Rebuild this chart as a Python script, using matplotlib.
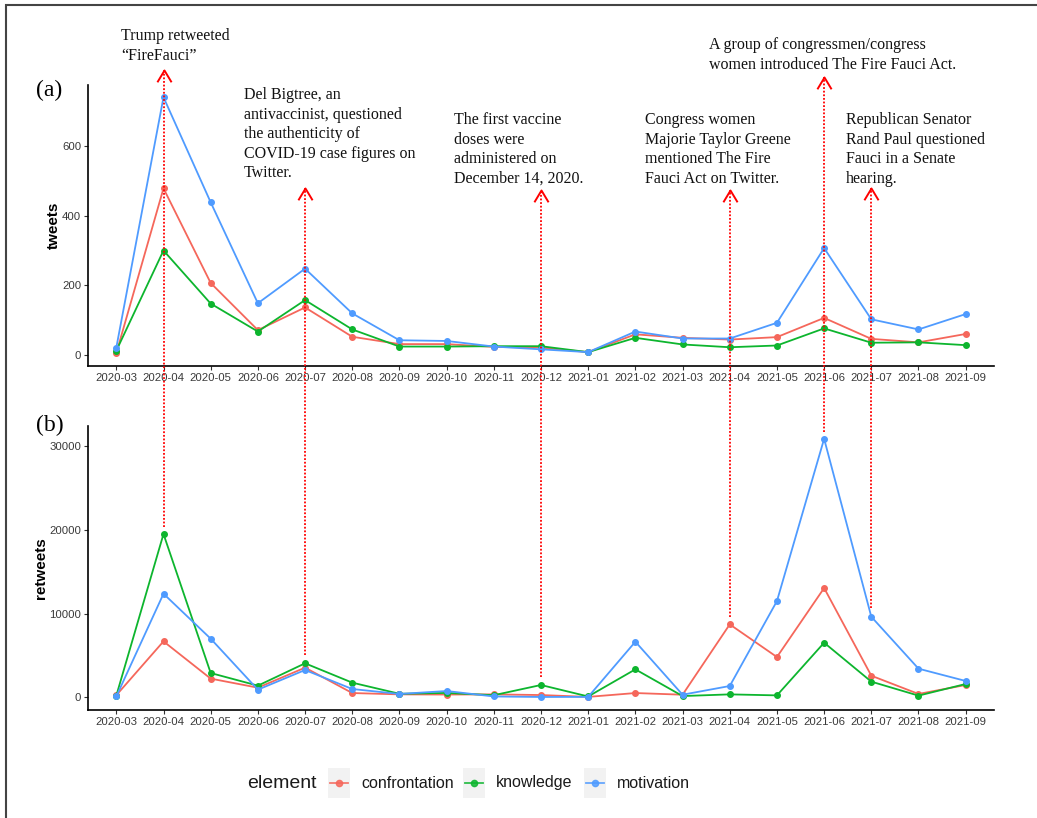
import matplotlib
matplotlib.use("Agg")
import matplotlib.pyplot as plt
import matplotlib.transforms as mtransforms
from matplotlib.lines import Line2D
from matplotlib.patches import Rectangle
from matplotlib.path import Path

# ---- data ----
months = ["2020-03", "2020-04", "2020-05", "2020-06", "2020-07", "2020-08",
          "2020-09", "2020-10", "2020-11", "2020-12", "2021-01", "2021-02",
          "2021-03", "2021-04", "2021-05", "2021-06", "2021-07", "2021-08",
          "2021-09"]

tweets_confrontation = [6, 478, 207, 72, 137, 53, 32, 32, 24, 22, 9, 60, 50, 45, 52, 107, 47, 37, 61]
tweets_knowledge = [13, 300, 148, 68, 158, 74, 25, 25, 26, 26, 9, 50, 31, 23, 28, 77, 36, 37, 29]
tweets_motivation = [22, 739, 438, 149, 248, 120, 43, 41, 25, 17, 9, 68, 48, 48, 93, 307, 103, 74, 118]

retweets_confrontation = [250, 6680, 2230, 1150, 3540, 510, 350, 330, 350, 270, 50, 510, 310, 8710, 4810, 13050, 2580, 400, 1470]
retweets_knowledge = [200, 19500, 2900, 1390, 4060, 1750, 420, 520, 250, 1470, 100, 3340, 150, 350, 230, 6520, 1870, 200, 1590]
retweets_motivation = [100, 12370, 7000, 910, 3260, 990, 400, 750, 100, 40, 50, 6640, 310, 1350, 11490, 30870, 9620, 3420, 1950]

elements = ["confrontation", "knowledge", "motivation"]

event_months = ["2020-04", "2020-07", "2020-12", "2021-04", "2021-06", "2021-07"]
event_texts = [
    "Trump retweeted\n\u201cFireFauci\u201d",
    "Del Bigtree, an\nantivaccinist, questioned\nthe authenticity of\nCOVID-19 case figures on\nTwitter.",
    "The first vaccine\ndoses were\nadministered on\nDecember 14, 2020.",
    "Congress women\nMajorie Taylor Greene\nmentioned The Fire\nFauci Act on Twitter.",
    "A group of congressmen/congress\nwomen introduced The Fire Fauci Act.",
    "Republican Senator\nRand Paul questioned\nFauci in a Senate\nhearing.",
]

# ---- layout (pixels of the 1037x818 canvas) ----
W, H = 1037, 818
colors = ["#F5675B", "#0DB52E", "#4F9BFF"]
text_pos = [(121, 28), (244, 87), (454, 112), (645, 112), (709, 37), (846, 112)]
arrow_tip = [70, 188, 190, 190, 77, 188]
arrow_end = [527, 655, 677, 617, 432, 608]


def fx(x):
    return x / W


def fy(y):
    return 1 - y / H


fig = plt.figure(figsize=(W / 100, H / 100), dpi=100)
fig.patch.set_facecolor("white")

ax1 = fig.add_axes([fx(88), fy(366), (994 - 88) / W, (366 - 85) / H])
ax2 = fig.add_axes([fx(88), fy(710), (994 - 88) / W, (710 - 426) / H])

x = list(range(len(months)))
series = [
    (ax1, [tweets_confrontation, tweets_knowledge, tweets_motivation], "tweets", (-30.7, 774), [0, 200, 400, 600]),
    (ax2, [retweets_confrontation, retweets_knowledge, retweets_motivation], "retweets", (-1516, 32400), [0, 10000, 20000, 30000]),
]

for ax, ys, ylab, ylim, yt in series:
    for y, c in zip(ys, colors):
        ax.plot(x, y, color=c, lw=1.3, marker="o", ms=4, zorder=3)
    ax.set_xlim(-0.6, len(months) - 0.4)
    ax.set_ylim(*ylim)
    ax.set_yticks(yt)
    ax.set_xticks(x)
    ax.set_xticklabels(months)
    for s in ["top", "right"]:
        ax.spines[s].set_visible(False)
    for s in ["left", "bottom"]:
        ax.spines[s].set_linewidth(1.2)
        ax.spines[s].set_color("black")
    ax.tick_params(length=3, width=0.8, color="#333333", labelsize=8.2,
                   labelcolor="#3A3A3A", pad=2)
    for lab in ax.get_xticklabels() + ax.get_yticklabels():
        lab.set_family("Liberation Sans")
    ax.set_ylabel(ylab, fontsize=11, fontweight="bold", family="Liberation Sans", labelpad=0.5)
    ax.set_facecolor("white")

# panel tags
fig.text(fx(36), fy(90), "(a)", family="Liberation Serif", fontsize=17, va="center", ha="left")
fig.text(fx(36), fy(425), "(b)", family="Liberation Serif", fontsize=17, va="center", ha="left")

# event annotations with dotted arrows
blend = mtransforms.blended_transform_factory(ax1.transData, fig.transFigure)
chevron = Path([(-0.6, -1), (0, 0), (0.6, -1)], [Path.MOVETO, Path.LINETO, Path.LINETO])
for m, txt, (tx, ty), tip, end in zip(event_months, event_texts, text_pos, arrow_tip, arrow_end):
    i = months.index(m)
    fig.add_artist(Line2D([i, i], [fy(end), fy(tip)], transform=blend, color="red",
                          lw=1.3, linestyle=(0, (1, 1)), zorder=5))
    fig.add_artist(Line2D([i], [fy(tip)], transform=blend, marker=chevron, ms=17,
                          mfc="none", mec="red", mew=1.4, linestyle="none", zorder=5))
    fig.text(fx(tx), fy(ty), txt, family="Liberation Serif", fontsize=11.5,
             va="top", ha="left", linespacing=1.3, color="#111111")

# legend (ggplot style, title on the left)
fig.text(fx(247), fy(783), "element", family="Liberation Sans", fontsize=14,
         va="center", ha="left", color="#1a1a1a")
key_left = [328, 463, 584]
for name, c, kx in zip(elements, colors, key_left):
    fig.add_artist(Rectangle((fx(kx), fy(798)), 22 / W, 30 / H, transform=fig.transFigure,
                             facecolor="#F2F2F2", edgecolor="none"))
    fig.add_artist(Line2D([fx(kx + 2), fx(kx + 20)], [fy(783), fy(783)], transform=fig.transFigure,
                          color=c, lw=1.3, alpha=0.85))
    fig.add_artist(Line2D([fx(kx + 11)], [fy(783)], transform=fig.transFigure,
                          color=c, marker="o", ms=4.5, linestyle="none", alpha=0.85))
    fig.text(fx(kx + 33), fy(783), name, family="Liberation Sans", fontsize=11.5,
             va="center", ha="left", color="#1a1a1a")

# outer frame
fig.add_artist(Rectangle((fx(6), -0.1), 1.2, fy(5) + 0.1, transform=fig.transFigure,
                         fill=False, edgecolor="#444444", lw=1.5))

fig.savefig("out.png", dpi=100)
